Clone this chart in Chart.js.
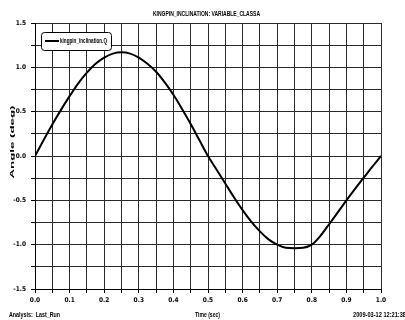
<!DOCTYPE html>
<html>
<head>
<meta charset="utf-8">
<title>KINGPIN_INCLINATION</title>
<script src="https://cdn.jsdelivr.net/npm/chart.js@4.4.1/dist/chart.umd.min.js"></script>
<style>
html,body{margin:0;padding:0;background:#fff;}
canvas{display:block;}
</style>
</head>
<body>
<canvas id="chart" width="405" height="320"></canvas>
<script>
// ================================
// Chart Data
// ================================

const timeSec=[0,0.025,0.05,0.075,0.1,0.125,0.15,0.175,0.2,0.225,0.25,0.275,0.3,0.325,0.35,0.375,0.4,0.425,0.45,0.475,0.5,
0.525,0.55,0.575,0.6,0.625,0.65,0.675,0.7,0.725,0.75,0.775,0.8,0.825,0.85,0.875,0.9,0.925,0.95,0.975,1.0];

const angleDeg=[0,0.18,0.355,0.52,0.675,0.82,0.94,1.04,1.11,1.155,1.17,1.155,1.11,1.04,0.95,0.83,0.69,0.53,0.36,0.18,0,
-0.155,-0.31,-0.465,-0.61,-0.74,-0.85,-0.94,-1.0,-1.035,-1.04,-1.035,-1.0,-0.9,-0.77,-0.635,-0.5,-0.37,-0.245,-0.12,0];

const xTickLabels=["0.0","0.1","0.2","0.3","0.4","0.5","0.6","0.7","0.8","0.9","1.0"];

const yTickLabels=["-1.5","-1.0","-0.5","0.0","0.5","1.0","1.5"];

const chartTitle="KINGPIN_INCLINATION: VARIABLE_CLASSA";
const seriesName="kingpin_inclination.Q";
const yAxisTitle="Angle (deg)";
const xAxisTitle="Time (sec)";
const analysisText="Analysis:  Last_Run";
const stampText="2009-03-12 12:21:38";

// ================================
// Helpers
// ================================

const narrowFont="'Liberation Sans Narrow','DejaVu Sans Condensed','Liberation Sans',Arial,sans-serif";
const textFont="'Liberation Sans',Arial,sans-serif";

function squeezeText(ctx,text,x,y,width,align){

    const w=ctx.measureText(text).width;

    ctx.save();
    ctx.translate(x,y);
    ctx.scale(width/w,1);
    ctx.textAlign=align;
    ctx.textBaseline="middle";
    ctx.fillText(text,0,0);
    ctx.restore();

}

// ================================
// Text + Legend Plugin
// ================================

const textPlugin={

id:"plotTexts",

afterDraw(chart){

    const ctx=chart.ctx;
    const area=chart.chartArea;

    ctx.save();
    ctx.fillStyle="#000";

    // title
    ctx.font="bold 8px "+textFont;
    squeezeText(ctx,chartTitle,206.5,14,107,"center");

    // footer
    ctx.font="bold 7px "+textFont;
    squeezeText(ctx,analysisText,9,315,51,"left");
    squeezeText(ctx,xAxisTitle,207.5,315,25,"center");
    squeezeText(ctx,stampText,353,315,53,"left");

    // y axis title (rotated, squeezed across)
    ctx.font="bold 10px "+textFont;
    const tw=ctx.measureText(yAxisTitle).width;
    ctx.save();
    ctx.translate(12.5,142);
    ctx.scale(0.55,1);
    ctx.rotate(-Math.PI/2);
    ctx.scale(73/tw,1);
    ctx.textAlign="center";
    ctx.textBaseline="middle";
    ctx.fillText(yAxisTitle,0,0);
    ctx.restore();

    // legend box
    const bx=area.left+6, by=32, bw=70, bh=18;
    ctx.beginPath();
    ctx.roundRect(bx+0.5,by+0.5,bw,bh,3);
    ctx.fillStyle="#fff";
    ctx.fill();
    ctx.strokeStyle="#000";
    ctx.lineWidth=1;
    ctx.stroke();

    ctx.beginPath();
    ctx.moveTo(bx+4,by+9);
    ctx.lineTo(bx+18,by+9);
    ctx.lineWidth=2;
    ctx.stroke();

    ctx.fillStyle="#000";
    ctx.font="bold 7px "+textFont;
    squeezeText(ctx,chart.data.datasets[0].label,bx+19,by+9.5,47,"left");

    ctx.restore();

}

};

// ================================
// Chart
// ================================

const points=timeSec.map(function(t,i){

    return {x:t,y:angleDeg[i]};

});

new Chart(document.getElementById("chart"),{

type:"line",

data:{

datasets:[{

label:seriesName,

data:points,

borderColor:"#000",

borderWidth:2,

pointRadius:0,

fill:false,

cubicInterpolationMode:"monotone"

}]

},

options:{

responsive:false,

animation:false,

layout:{

padding:{left:0,right:24,top:23,bottom:0}

},

plugins:{

legend:{display:false},

title:{display:false},

tooltip:{enabled:false}

},

scales:{

x:{

type:"linear",

min:0,

max:1,

afterFit(scale){ scale.height=31; },

ticks:{

stepSize:0.05,

autoSkip:false,

maxRotation:0,

padding:3,

color:"#000",

font:{family:narrowFont,size:6.5,weight:"bold"},

callback(value){

    const k=value*10;

    if(Math.abs(k-Math.round(k))>1e-6) return "";

    return xTickLabels[Math.round(k)];

}

},

grid:{

color:"#2a2a2a",

lineWidth:1,

tickLength:4,

tickColor:"#000"

},

border:{color:"#000",width:1}

},

y:{

min:-1.5,

max:1.5,

afterFit(scale){ scale.width=35; },

ticks:{

stepSize:0.25,

autoSkip:false,

padding:5,

color:"#000",

font:{family:narrowFont,size:6.5,weight:"bold"},

callback(value){

    const k=value*2;

    if(Math.abs(k-Math.round(k))>1e-6) return "";

    return yTickLabels[Math.round(k)+3];

}

},

grid:{

color:"#2a2a2a",

lineWidth:1,

tickLength:4,

tickColor:"#000"

},

border:{color:"#000",width:1}

}

}

},

plugins:[textPlugin]

});
</script>
</body>
</html>
